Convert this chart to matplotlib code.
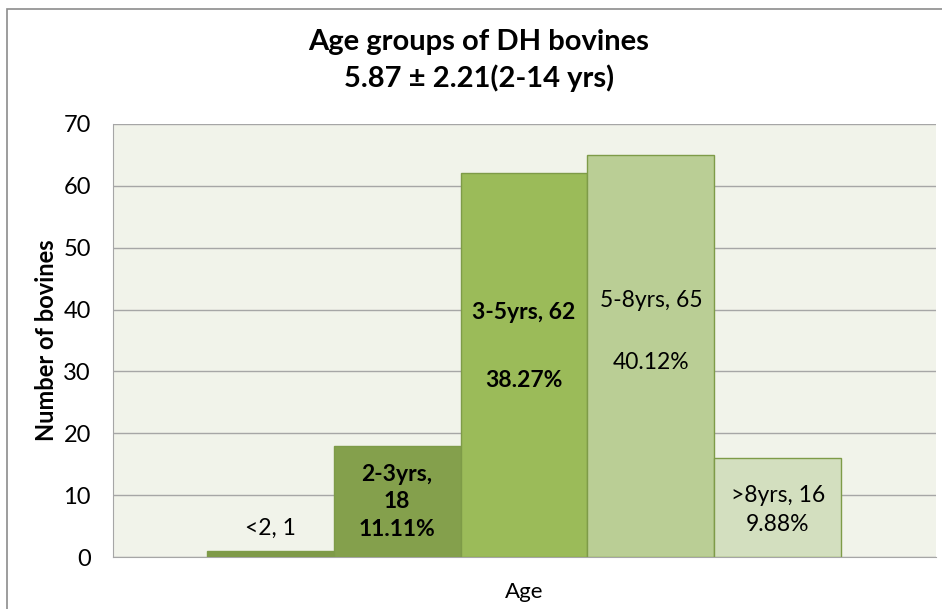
import matplotlib.pyplot as plt
from matplotlib.patches import Rectangle

categories = ["<2", "2-3yrs", "3-5yrs", "5-8yrs", ">8yrs"]
counts = [1, 18, 62, 65, 16]
percents = ["", "11.11%", "38.27%", "40.12%", "9.88%"]
colors = ["#7F9A48", "#84A04C", "#9BBB59", "#BACE95", "#D3DFBF"]

plt.rcParams['font.family'] = ['Lato', 'DejaVu Sans']

fig = plt.figure(figsize=(9.42, 6.09), dpi=100)
ax = fig.add_axes([113/942, 52/609, 823/942, 433/609])
ax.set_facecolor("#F1F3EA")

x = list(range(len(counts)))
ax.bar(x, counts, width=1.0, color=colors, edgecolor="#7E9B48", linewidth=1, zorder=3)

ax.set_xlim(-0.5 - 94/127, 4.5 + 95/127)
ax.set_ylim(0, 70)
ax.set_yticks(range(0, 71, 10))
ax.set_xticks([])
ax.yaxis.grid(True, color="#A6A6A6", linewidth=1)
ax.set_axisbelow(True)
for s in ["top", "right"]:
    ax.spines[s].set_visible(False)
ax.spines["left"].set_color("#A6A6A6")
ax.spines["bottom"].set_color("#A6A6A6")
ax.tick_params(axis='y', length=0, labelsize=17, pad=16)
ax.tick_params(axis='x', length=0)

fs = 16.5
ax.text(0, 4.7, f"{categories[0]}, {counts[0]}", ha='center', va='center', fontsize=fs)
ax.text(1, 8.9, f"{categories[1]},\n{counts[1]}\n{percents[1]}", ha='center', va='center',
        fontsize=fs, fontweight='bold', linespacing=1.38)
ax.text(2, 39.6, f"{categories[2]}, {counts[2]}", ha='center', va='center', fontsize=fs, fontweight='bold')
ax.text(2, 28.6, percents[2], ha='center', va='center', fontsize=fs, fontweight='bold')
ax.text(3, 41.5, f"{categories[3]}, {counts[3]}", ha='center', va='center', fontsize=fs)
ax.text(3, 31.5, percents[3], ha='center', va='center', fontsize=fs)
ax.text(4, 10.0, f"{categories[4]}, {counts[4]}", ha='center', va='center', fontsize=fs)
ax.text(4, 5.2, percents[4], ha='center', va='center', fontsize=fs)

ax.set_ylabel("Number of bovines", fontsize=17, fontweight='bold', labelpad=4)
ax.set_xlabel("Age", fontsize=16, labelpad=18)

fig.text(479/942, 1 - 42/609, "Age groups of DH bovines", ha='center', va='center',
         fontsize=21, fontweight='bold')
fig.text(479/942, 1 - 78/609, "5.87 ± 2.21(2-14 yrs)", ha='center', va='center',
         fontsize=21, fontweight='bold')

fig.patches.append(Rectangle((7/942, -0.01), 1.0, 1 - 9/609 + 0.01, transform=fig.transFigure,
                             fill=False, edgecolor="#8C8C8C", linewidth=1.2))

fig.savefig("out.png", dpi=100)
